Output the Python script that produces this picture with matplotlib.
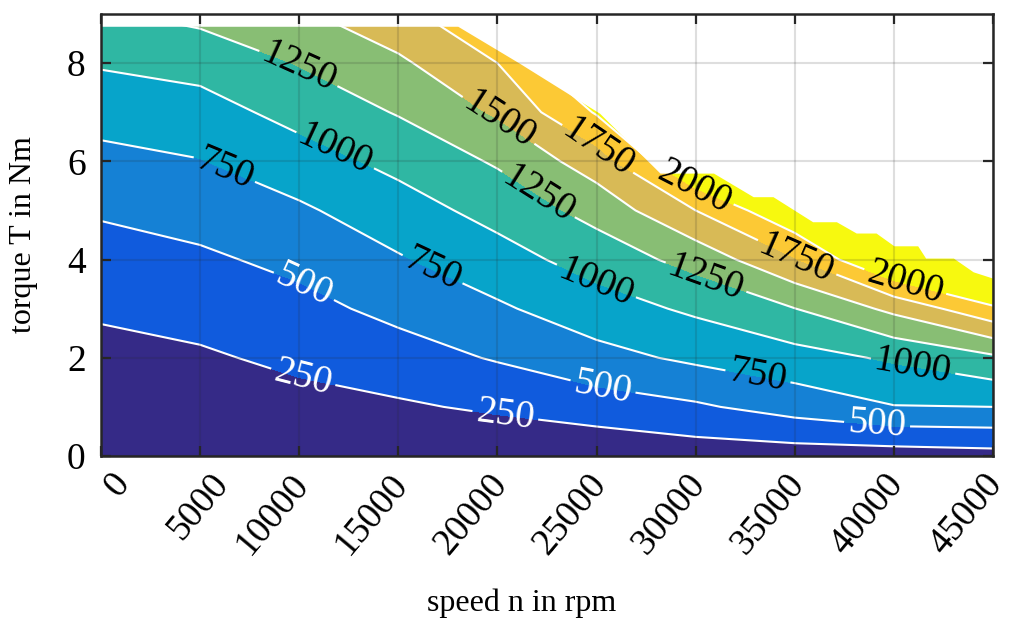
import numpy as np
import matplotlib
matplotlib.use("Agg")
import matplotlib.pyplot as plt
import matplotlib.transforms as mtransforms

plt.rcParams['font.family'] = ['Liberation Serif', 'DejaVu Serif']

# loss map: rows = torque (Nm), columns = speed (rpm)
speed = np.array([0, 5000, 10000, 15000, 20000, 25000, 30000, 35000, 40000, 45000])
torque = np.array([0, 1, 2, 3, 4, 5, 6, 7, 8, 9])
loss = np.array([
    [0,    10,   30,   40,   50,   52,   113,  125,  130,  160],
    [91,   114,  175,  218,  288,  382,  465,  605,  740,  750],
    [182,  219,  301,  395,  521,  670,  798,  905,  1035, 1203],
    [281,  336,  427,  567,  715,  890,  1043, 1246, 1562, 1948],
    [401,  459,  563,  728,  901,  1103, 1340, 1733, 2330, 2800],
    [527,  597,  713,  891,  1085, 1338, 1750, 2225, 2700, 3100],
    [679,  741,  894,  1068, 1279, 1627, 2305, 2500, 3000, 3400],
    [844,  901,  1082, 1267, 1534, 2023, 2600, 2800, 3300, 3700],
    [1024, 1086, 1264, 1456, 1750, 2400, 2900, 3100, 3600, 4000],
    [1224, 1320, 1464, 1680, 1977, 2800, 3200, 3400, 3900, 4300],
])

levels = [0, 250, 500, 750, 1000, 1250, 1500, 1750, 2000, 5000]
band_colors = ['#352a87', '#105bdd', '#1581d5', '#07a4ca', '#2fb7a3',
               '#88be74', '#d8ba56', '#fcc935', '#f7f90f']

# max torque limit (stair steps of the measured map)
max_speed = [0, 18000, 21100, 25150, 28200, 30900, 32900, 33900, 35900, 37100,
             38100, 39100, 40000, 41200, 41600, 43000, 44000, 45000]
max_torque = [8.75, 8.75, 8.0, 6.98, 5.76, 5.76, 5.28, 5.28, 4.77, 4.77,
              4.54, 4.54, 4.28, 4.28, 4.03, 4.03, 3.75, 3.62]

# where the contour labels sit
label_pos = [(10040, 7.96), (11550, 5.99), (6260, 5.87), (10390, 3.58), (10190, 1.59),
             (20130, 6.88), (25170, 6.31), (30070, 5.56), (22050, 5.31), (16600, 3.69),
             (25020, 3.58), (30470, 3.58), (35110, 4.03), (40560, 3.54), (40960, 1.81),
             (33100, 1.53), (25330, 1.43), (20380, 0.77), (39150, 0.63)]

fig = plt.figure(figsize=(10.17, 6.22), dpi=100)
ax = fig.add_axes([0.0993, 0.2669, 0.8771, 0.7106])
ax.set_xlim(0, 45000)
ax.set_ylim(0, 9)

ax.contourf(speed, torque, loss, levels=levels, colors=band_colors, zorder=1)
cs = ax.contour(speed, torque, loss, levels=levels[1:-1], colors='white',
                linewidths=1.5, zorder=2)
ax.fill_between(max_speed, max_torque, 9.5, color='white', lw=0, zorder=2.3)

texts = ax.clabel(cs, manual=label_pos, inline=True, fmt='%d', fontsize=28,
                  inline_spacing=4)
for t in texts:
    t.set_color('white' if t.get_text() in ('250', '500') else 'black')
    t.set_zorder(4)

ax.set_axisbelow(False)
ax.grid(True, color='#262626', alpha=0.15, lw=1.5)

ax.set_xticks(np.arange(0, 45001, 5000))
ax.set_yticks([0, 2, 4, 6, 8])
ax.tick_params(direction='in', top=True, right=True, length=7, width=1.6,
               color='#262626', labelsize=27)
ax.tick_params(axis='x', pad=8)
ax.tick_params(axis='y', pad=11)
for s in ax.spines.values():
    s.set_linewidth(1.8)
    s.set_color('#262626')

# rotated labels; the short ones sit a bit further right, like in the source figure
for i, lab in enumerate(ax.get_xticklabels()):
    dx = -7 if i > 1 else 7
    lab.set_rotation(50)
    lab.set_ha('right')
    lab.set_va('top')
    lab.set_rotation_mode('anchor')
    lab.set_transform(lab.get_transform()
                      + mtransforms.ScaledTranslation(dx / 72, 0, fig.dpi_scale_trans))

ax.set_xlabel('speed n in rpm', fontsize=23)
ax.set_ylabel('torque T in Nm', fontsize=23)
ax.xaxis.set_label_coords(0.472, -0.299)
ax.yaxis.set_label_coords(-0.0706, 0.5)

fig.savefig('out.png', dpi=100)
